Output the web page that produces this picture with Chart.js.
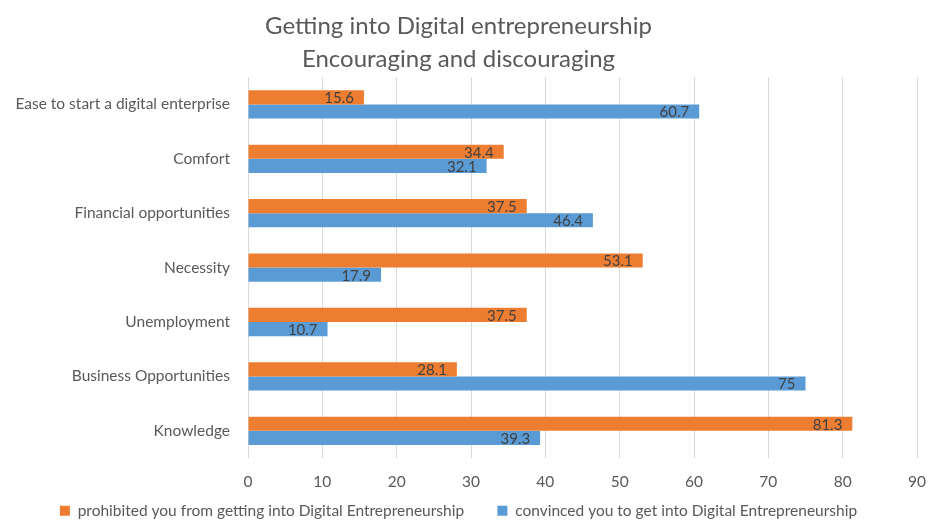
<!DOCTYPE html>
<html>
<head>
<meta charset="utf-8">
<script src="https://cdn.jsdelivr.net/npm/chart.js@4/dist/chart.umd.min.js"></script>
<style>
  html, body { margin: 0; padding: 0; background: #ffffff; }
  #wrap { width: 928px; height: 520px; }
</style>
</head>
<body>
<div id="wrap"><canvas id="chart" width="928" height="520"></canvas></div>
<script>
// Reasons for getting into digital entrepreneurship (percent of respondents)
const categories = [
  'Ease to start a digital enterprise',
  'Comfort',
  'Financial opportunities',
  'Necessity',
  'Unemployment',
  'Business Opportunities',
  'Knowledge'
];
const prohibitedValues = [15.6, 34.4, 37.5, 53.1, 37.5, 28.1, 81.3];
const convincedValues  = [60.7, 32.1, 46.4, 17.9, 10.7, 75, 39.3];
const seriesNames = [
  'prohibited you from getting into Digital Entrepreneurship',
  'convinced you to get into Digital Entrepreneurship'
];
const titleLines = ['Getting into Digital entrepreneurship', 'Encouraging and discouraging'];
const xTicks = [0, 10, 20, 30, 40, 50, 60, 70, 80, 90];

const FONT = 'Lato';
const TEXT_GREY = '#595959';

// Writes each bar's value just inside its end
const barValueLabels = {
  id: 'barValueLabels',
  afterDatasetsDraw(chart) {
    const ctx = chart.ctx;
    ctx.save();
    ctx.font = '15px ' + FONT;
    ctx.fillStyle = '#404040';
    ctx.textAlign = 'right';
    ctx.textBaseline = 'middle';
    chart.data.datasets.forEach((ds, di) => {
      const meta = chart.getDatasetMeta(di);
      meta.data.forEach((bar, i) => {
        ctx.fillText(String(ds.data[i]), bar.x - 10, bar.y + 1);
      });
    });
    ctx.restore();
  }
};

new Chart(document.getElementById('chart'), {
  type: 'bar',
  data: {
    labels: categories,
    datasets: [
      {
        label: seriesNames[0],
        data: prohibitedValues,
        backgroundColor: '#ED7D31',
        categoryPercentage: 0.52,
        barPercentage: 1
      },
      {
        label: seriesNames[1],
        data: convincedValues,
        backgroundColor: '#5B9BD5',
        categoryPercentage: 0.52,
        barPercentage: 1
      }
    ]
  },
  options: {
    indexAxis: 'y',
    responsive: false,
    animation: false,
    layout: { padding: { left: 0, right: 11, top: 0, bottom: 0 } },
    scales: {
      x: {
        min: 0,
        max: 90,
        afterBuildTicks(scale) { scale.ticks = xTicks.map(v => ({ value: v })); },
        afterFit(scale) {
          scale.height = 33;
          scale.paddingLeft = 0;
          scale.paddingRight = 0;
        },
        grid: { color: '#d9d9d9', lineWidth: 1, drawTicks: false },
        border: { display: false },
        ticks: { color: TEXT_GREY, font: { family: FONT, size: 15.5 }, padding: 15 }
      },
      y: {
        afterFit(scale) { scale.width = 248; },
        grid: { display: false, drawTicks: false },
        border: { display: false },
        ticks: { color: TEXT_GREY, font: { family: FONT, size: 15.5 }, padding: 18 }
      }
    },
    plugins: {
      title: {
        display: true,
        text: titleLines,
        color: TEXT_GREY,
        font: { family: FONT, size: 24, weight: 'normal', lineHeight: 1.4 },
        padding: { top: 9, bottom: 1 }
      },
      legend: {
        position: 'bottom',
        maxHeight: 29,
        labels: {
          color: TEXT_GREY,
          font: { family: FONT, size: 15.5 },
          boxWidth: 10,
          boxHeight: 10,
          padding: 12,
          generateLabels(chart) {
            const items = Chart.defaults.plugins.legend.labels.generateLabels(chart);
            // widen the gap after the first entry
            items[0].text = items[0].text + '\u2003\u2002\u2009';
            return items;
          }
        }
      },
      tooltip: { enabled: false }
    }
  },
  plugins: [barValueLabels]
});
</script>
</body>
</html>
